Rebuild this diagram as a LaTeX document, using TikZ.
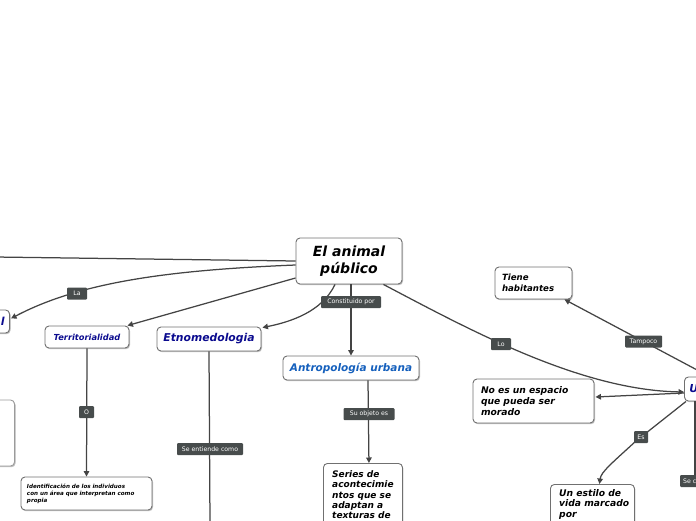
\documentclass[tikz,border=0pt]{standalone}
\usepackage{fontspec}
\setmainfont{DejaVu Sans}
\usetikzlibrary{arrows.meta,shadows,calc}
\definecolor{lbl}{HTML}{474C4C}
\definecolor{edge}{HTML}{444444}
\definecolor{bord}{HTML}{707070}
\definecolor{navy}{HTML}{0B0B8F}
\definecolor{mblue}{HTML}{1560BD}
\begin{document}
\begin{tikzpicture}[x=1pt,y=-1pt,
  topic/.style={draw=bord, line width=0.9pt, rounded corners=4pt, fill=white, inner sep=0pt,
    drop shadow={shadow xshift=1pt,shadow yshift=-1.2pt,fill=black,opacity=0.25}},
  lab/.style={fill=lbl, text=white, rounded corners=1pt, font=\fontsize{6.2}{7}\selectfont,
    inner xsep=3pt, inner ysep=0pt, minimum height=12pt},
  conn/.style={draw=edge, line width=1.25pt},
  arr/.style={conn, -{Triangle[length=5.5pt,width=5.5pt]}}]
\useasboundingbox (0,0) rectangle (696,520);
\clip (0,0) rectangle (696,520);

% nodes
\node[topic, minimum width=106pt, minimum height=46pt, align=center,
  font=\bfseries\itshape\fontsize{14}{17.5}\selectfont] (c) at (349,261) {El animal\\público};
\node[topic, minimum width=84pt, minimum height=22pt, text=navy,
  font=\bfseries\itshape\fontsize{8.3}{10}\selectfont] (terr) at (87,337) {Territorialidad};
\node[topic, minimum width=104pt, minimum height=24pt, text=navy,
  font=\bfseries\itshape\fontsize{10.8}{13}\selectfont] (etno) at (209,339) {Etnomedologia};
\node[topic, minimum width=136pt, minimum height=24pt, text=mblue,
  font=\bfseries\itshape\fontsize{10.5}{13}\selectfont] (antro) at (351,368) {Antropología urbana};
\node[topic, minimum width=79pt, minimum height=80pt, anchor=north west] (ser) at (323,463) {};
\node[anchor=north west, inner sep=0pt, align=left,
  font=\bfseries\itshape\fontsize{9}{10.3}\selectfont] (sertext) at (332,470.5)
  {Series de\\acontecimie\\ntos que se\\adaptan a\\texturas de};
\node[topic, minimum width=131pt, minimum height=33pt, text width=119pt, align=left,
  font=\bfseries\itshape\fontsize{5.6}{7}\selectfont] (ident) at (86.5,493.5)
  {Identificación de los individuos\\con un área que interpretan como\\propia};
\node[topic, minimum height=23pt, text width=50pt, align=right, inner xsep=5pt, text=navy,
  font=\bfseries\itshape\fontsize{11}{13}\selectfont, anchor=east] (ln) at (10,321.5) {l};
\node[topic, draw=bord!70, minimum width=60pt, minimum height=66pt, anchor=east] (lb) at (15,433) {};
\node[topic, minimum height=24pt, minimum width=50pt, text width=40pt, align=left, inner xsep=5pt,
  text=navy, font=\bfseries\itshape\fontsize{11}{13}\selectfont, anchor=west] (rn) at (684,389) {U};
\node[topic, minimum width=77pt, minimum height=32pt, text width=63pt, align=left,
  font=\bfseries\itshape\fontsize{8.6}{11}\selectfont] (tiene) at (533.5,283) {Tiene\\habitantes};
\node[topic, minimum width=121pt, minimum height=44pt, text width=105pt, align=left,
  font=\bfseries\itshape\fontsize{9.2}{11.3}\selectfont] (noes) at (533.5,401)
  {No es un espacio\\que pueda ser\\morado};
\node[topic, minimum width=84pt, minimum height=60pt, anchor=north west] (est) at (550,484) {};
\node[anchor=north west, inner sep=0pt, align=left,
  font=\bfseries\itshape\fontsize{9.2}{10.2}\selectfont] (esttext) at (559,489.5)
  {Un estilo de\\vida marcado\\por};

% off-picture ends
\coordinate (offl) at (-5,257);
\coordinate (offb) at (210,525);

% connectors
\draw[conn] (c.west) -- (offl);
\draw[arr] ($(c.west)+(0,4)$) .. controls (170,270) and (80,282) .. ($(ln.east)+(1,-3)$);
\draw[arr] ($(c.west)+(0,17)$) -- ($(terr.north east)+(-2,0)$);
\draw[arr] ($(c.south)+(-14,0)$) .. controls (322,312) and (290,322) .. ($(etno.north east)+(1,1)$);
\draw[arr] ($(c.south)+(2,0)$) -- (antro.north);
\draw[arr] ($(antro.south)+(17,0)$) -- ($(ser.north)+(6,0)$);
\draw[arr] (terr.south) -- (ident.north);
\draw[conn] (etno.south) -- (offb);
\draw[arr] ($(c.south east)+(-19,0)$) .. controls (470,330) and (580,390) .. ($(rn.west)+(0,3)$);
\draw[arr] (rn.north) -- ($(tiene.south east)+(-8,0)$);
\draw[arr] ($(rn.west)+(0,4)$) -- ($(noes.east)+(1,-4)$);
\draw[arr] ($(rn.south west)+(2,0)$) -- (636,441) .. controls (612,463) and (601,472) .. ($(est.north)+(7,0)$);
\draw[conn] ($(rn.south west)+(11,0)$) -- (695,481);

% labels
\node[lab, minimum width=20pt] (lLa) at (77,293.5) {La};
\node[lab, minimum width=60pt] (lCons) at (351,302) {Constituido por };
\node[lab, minimum width=51pt] (lSu) at (369,414) {Su objeto es };
\node[lab, minimum width=15pt] (lO) at (86.5,412) {O};
\node[lab, minimum width=66pt] (lSe) at (210,449) {Se entiende como};
\node[lab, minimum width=20pt] (lLo) at (501,344) {Lo};
\node[lab, minimum width=37pt] (lTa) at (643.5,341.5) {Tampoco };
\node[lab, minimum width=14pt] (lEs) at (641,437) {Es};
\node[lab, anchor=west] (lSc) at (680,481) {Se c};
\end{tikzpicture}
\end{document}
